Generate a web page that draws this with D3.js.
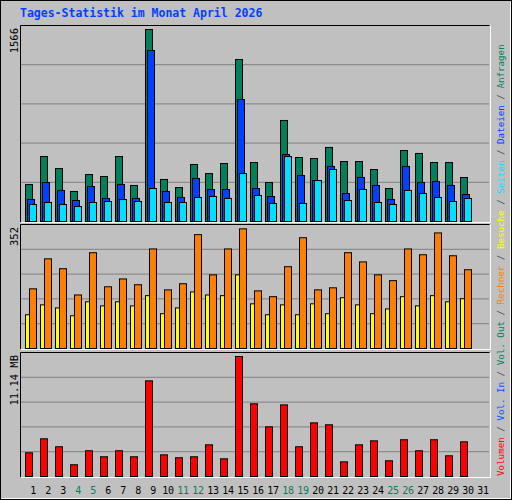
<!DOCTYPE html>
<html><head><meta charset="utf-8">
<script src="https://cdn.jsdelivr.net/npm/d3@7"></script>
<style>body{margin:0;background:#fff}svg{display:block}</style>
</head><body><svg id="c" width="512" height="500"></svg>
<script>
const days = d3.range(1, 32);
const weekend = [4,5,11,12,18,19,25,26];
const anfragen = [302,530,432,245,383,367,530,294,1566,343,277,465,391,473,1321,481,318,824,522,514,604,489,489,424,269,579,555,481,481,359];
const dateien  = [179,318,253,171,285,188,302,188,1395,245,196,351,261,261,995,269,204,546,375,334,449,228,359,294,179,449,318,326,294,220];
const seiten   = [139,155,139,122,155,163,179,163,269,155,155,196,204,188,391,212,147,530,147,334,424,171,261,155,139,253,228,196,163,188];
const besuche  = [99,128,119,96,137,125,137,125,155,102,119,166,157,155,216,131,99,128,99,131,102,149,128,102,116,152,125,155,137,146];
const rechner  = [175,263,234,157,281,181,204,187,292,172,190,334,216,292,351,169,152,240,325,172,178,281,254,216,199,292,275,339,272,231];
const volumen  = [2.20,3.50,2.76,1.09,2.39,1.83,2.39,1.83,8.88,2.01,1.74,1.83,2.94,1.64,11.14,6.75,4.61,6.65,2.76,4.98,4.80,1.36,2.94,3.31,1.46,3.41,2.39,3.41,1.92,3.22];
const maxTop = 1566, maxMid = 352, maxBot = 11.14;
const title = "Tages-Statistik im Monat April 2026";
const legend = [["Volumen","#ff0000"],["Vol. In","#0055ff"],["Vol. Out","#00805c"],["Rechner","#ff8000"],["Besuche","#ffff00"],["Seiten","#00e0ff"],["Dateien","#0040ff"],["Anfragen","#00805c"]];

const svg = d3.select("#c");
const F = "'DejaVu Sans Mono', monospace";
svg.append("rect").attr("x",0).attr("y",0).attr("width",512).attr("height",500).attr("fill","#c0c0c0");
svg.append("rect").attr("x",0.5).attr("y",0.5).attr("width",511).attr("height",499).attr("fill","none").attr("stroke","#000");
svg.append("path").attr("d","M1.5,498.5H510.5V1.5").attr("fill","none").attr("stroke","#fff");
svg.append("text").attr("x",20).attr("y",17).attr("font-family",F).attr("font-weight","bold").attr("font-size",11.5).attr("fill","#0040ff").text(title);

const x = d3.scaleBand().domain(days).range([20,485]).paddingInner(0).paddingOuter(0);
const panels = [
  {top:25, bot:221, max:maxTop, label:"1566"},
  {top:224, bot:348, max:maxMid, label:"352"},
  {top:352, bot:476, max:maxBot, label:"11.14 MB"}
];
panels.forEach(p=>{
  p.y = d3.scaleLinear().domain([0,p.max]).range([p.bot, p.top+4]);
  const h = p.bot - p.top;
  for(let k=1;k<5;k++){
    svg.append("line").attr("x1",21).attr("x2",489).attr("y1",p.top+h*k/5+0.5).attr("y2",p.top+h*k/5+0.5).attr("stroke","#808080");
  }
  svg.append("path").attr("d",`M20.5,${p.bot+1.5}V${p.top+0.5}H489.5`).attr("fill","none").attr("stroke","#000");
  svg.append("path").attr("d",`M20.5,${p.bot+1.5}H490.5V${p.top+0.5}`).attr("fill","none").attr("stroke","#fff");
  svg.append("text").attr("transform",`translate(18,${p.top+3}) rotate(-90)`).attr("text-anchor","end")
    .attr("font-family",F).attr("font-size",10.5).attr("fill","#000").text(p.label);
});

function bars(data, panel, off, w, color){
  svg.append("g").selectAll("rect").data(data).join("rect")
    .attr("x",(d,i)=>x(days[i])+off+0.5).attr("width",w)
    .attr("y",d=>panel.y(d)+0.5).attr("height",d=>panel.bot-panel.y(d))
    .attr("fill",color).attr("stroke","#000").attr("stroke-width",1);
}
bars(anfragen, panels[0], 5, 7, "#00805c");
bars(dateien, panels[0], 7, 7, "#0040ff");
bars(seiten, panels[0], 9, 7, "#00e0ff");
bars(besuche, panels[1], 5, 5, "#ffff00");
bars(rechner, panels[1], 9, 7, "#ff8000");
bars(volumen, panels[2], 5, 7, "#ff0000");

svg.append("g").selectAll("text").data(days).join("text")
  .attr("x",d=>x(d)+13).attr("y",494).attr("text-anchor","middle")
  .attr("font-family",F).attr("font-size",10).attr("letter-spacing",-0.3)
  .attr("fill",d=>weekend.includes(d)?"#00805c":"#000").text(d=>d);

const t = svg.append("text").attr("transform","translate(504,476) rotate(-90)")
  .attr("font-family",F).attr("font-size",9.2);
legend.forEach((l,i)=>{
  if(i>0) t.append("tspan").attr("fill","#404040").text(" / ");
  t.append("tspan").attr("fill",l[1]).text(l[0]);
});
</script></body></html>
